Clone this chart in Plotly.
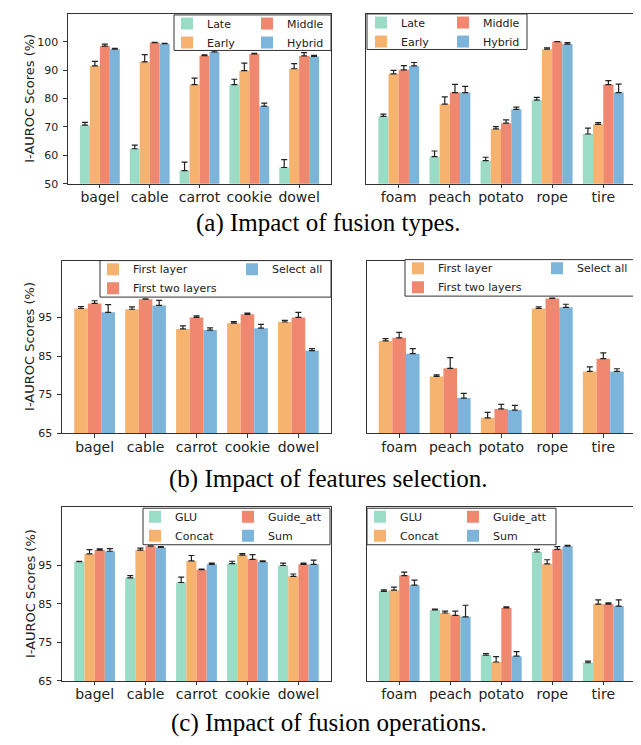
import plotly.graph_objects as go

W, H = 641, 745

# ---------------- data ----------------
cats_left = ["bagel", "cable", "carrot", "cookie", "dowel"]
cats_right = ["foam", "peach", "potato", "rope", "tire"]

# (a) Impact of fusion types
a_names = ["Late", "Early", "Middle", "Hybrid"]
a_late_L = [70.6, 62.3, 54.6, 84.9, 55.7]
a_late_L_err = [1.0, 1.3, 3.0, 1.9, 2.8]
a_early_L = [91.5, 92.9, 84.9, 89.8, 90.5]
a_early_L_err = [1.6, 2.6, 2.3, 2.7, 1.8]
a_middle_L = [98.5, 99.7, 95.1, 95.7, 95.0]
a_middle_L_err = [0.7, 0.1, 0.3, 0.2, 1.2]
a_hybrid_L = [97.4, 99.3, 96.4, 77.3, 94.8]
a_hybrid_L_err = [0.3, 0.1, 0.5, 1.1, 0.4]

a_late_R = [73.7, 59.5, 58.1, 79.4, 67.5]
a_late_R_err = [0.8, 2.0, 1.2, 1.0, 2.1]
a_early_R = [88.7, 78.0, 69.3, 97.4, 70.9]
a_early_R_err = [1.2, 2.6, 0.8, 0.5, 0.6]
a_middle_R = [90.1, 82.1, 71.3, 100.0, 84.9]
a_middle_R_err = [1.5, 2.9, 1.2, 0.1, 1.4]
a_hybrid_R = [91.5, 82.1, 76.2, 99.2, 82.1]
a_hybrid_R_err = [1.2, 2.2, 0.8, 0.5, 3.0]

# (b) Impact of features selection
b_names = ["First layer", "First two layers", "Select all"]
b_first_L = [97.3, 97.1, 92.0, 93.5, 93.8]
b_first_L_err = [0.5, 0.6, 0.8, 0.4, 0.4]
b_two_L = [98.6, 99.7, 95.0, 95.8, 95.0]
b_two_L_err = [0.7, 0.1, 0.4, 0.3, 1.3]
b_all_L = [96.3, 98.1, 91.7, 92.2, 86.4]
b_all_L_err = [2.0, 1.3, 0.6, 1.0, 0.5]

b_first_R = [88.9, 79.7, 69.0, 97.3, 81.0]
b_first_R_err = [0.6, 0.4, 1.4, 0.4, 1.2]
b_two_R = [89.7, 81.8, 71.3, 99.9, 84.3]
b_two_R_err = [1.4, 2.8, 1.2, 0.1, 1.5]
b_all_R = [85.6, 74.1, 71.0, 97.6, 81.0]
b_all_R_err = [1.3, 1.2, 1.2, 0.8, 0.7]

# (c) Impact of fusion operations
c_names = ["GLU", "Concat", "Guide_att", "Sum"]
c_glu_L = [95.9, 91.7, 90.5, 95.4, 94.9]
c_glu_L_err = [0.1, 0.6, 1.4, 0.6, 0.6]
c_concat_L = [97.9, 98.9, 96.1, 97.6, 92.1]
c_concat_L_err = [1.1, 0.5, 1.4, 0.4, 0.6]
c_guide_L = [98.9, 99.9, 93.8, 96.5, 95.2]
c_guide_L_err = [0.3, 0.1, 0.2, 1.2, 0.3]
c_sum_L = [98.6, 99.6, 95.2, 95.9, 95.2]
c_sum_L_err = [0.7, 0.2, 0.3, 0.2, 1.1]

c_glu_R = [88.2, 83.4, 71.7, 98.4, 69.7]
c_glu_R_err = [0.4, 0.2, 0.4, 0.7, 0.4]
c_concat_R = [88.5, 82.6, 69.9, 95.3, 84.9]
c_concat_R_err = [0.8, 0.5, 1.4, 1.1, 1.1]
c_guide_R = [92.3, 82.0, 83.9, 99.1, 84.9]
c_guide_R_err = [0.9, 1.1, 0.3, 0.7, 0.3]
c_sum_R = [89.8, 81.6, 71.4, 99.9, 84.4]
c_sum_R_err = [1.3, 3.0, 1.2, 0.2, 1.6]

a_yticks = [50, 60, 70, 80, 90, 100]
bc_yticks = [65, 75, 85, 95]

y_title = "I-AUROC Scores (%)"
captions = ["(a) Impact of fusion types.",
            "(b) Impact of features selection.",
            "(c) Impact of fusion operations."]

# ---------------- style ----------------
TEAL = "#9BDCC6"
ORANGE = "#F5B36F"
SALMON = "#F08870"
BLUE = "#7DB5DA"
FONT = "DejaVu Sans"
FRAME = "#333333"


def fx(p):
    return p / W


def fy(p):
    return 1 - p / H


fig = go.Figure()

# panel geometry: (x0, x1, ytop, ybottom, yrange)
panels = [
    (60, 323, 3, 175, [50, 109.8]),
    (358, 628, 3, 175, [50, 109.8]),
    (54, 323, 253, 428, [65, 109.7]),
    (358.5, 628, 253, 428, [65, 109.7]),
    (54, 323, 503, 679, [65, 110]),
    (358.5, 628, 503, 679, [65, 110]),
]

series = [
    [("Late", a_late_L, a_late_L_err, TEAL, 1), ("Early", a_early_L, a_early_L_err, ORANGE, 1),
     ("Middle", a_middle_L, a_middle_L_err, SALMON, 2), ("Hybrid", a_hybrid_L, a_hybrid_L_err, BLUE, 2)],
    [("Late", a_late_R, a_late_R_err, TEAL, 3), ("Early", a_early_R, a_early_R_err, ORANGE, 3),
     ("Middle", a_middle_R, a_middle_R_err, SALMON, 4), ("Hybrid", a_hybrid_R, a_hybrid_R_err, BLUE, 4)],
    [("First layer", b_first_L, b_first_L_err, ORANGE, 5), ("First two layers", b_two_L, b_two_L_err, SALMON, 5),
     ("Select all", b_all_L, b_all_L_err, BLUE, 6)],
    [("First layer", b_first_R, b_first_R_err, ORANGE, 7), ("First two layers", b_two_R, b_two_R_err, SALMON, 7),
     ("Select all", b_all_R, b_all_R_err, BLUE, 8)],
    [("GLU", c_glu_L, c_glu_L_err, TEAL, 9), ("Concat", c_concat_L, c_concat_L_err, ORANGE, 9),
     ("Guide_att", c_guide_L, c_guide_L_err, SALMON, 10), ("Sum", c_sum_L, c_sum_L_err, BLUE, 10)],
    [("GLU", c_glu_R, c_glu_R_err, TEAL, 11), ("Concat", c_concat_R, c_concat_R_err, ORANGE, 11),
     ("Guide_att", c_guide_R, c_guide_R_err, SALMON, 12), ("Sum", c_sum_R, c_sum_R_err, BLUE, 12)],
]

for i, sers in enumerate(series):
    k = i + 1
    cats = cats_left if i % 2 == 0 else cats_right
    for name, vals, errs, col, lg in sers:
        fig.add_trace(go.Bar(
            x=cats, y=vals, name=name,
            marker=dict(color=col, line=dict(width=0)),
            error_y=dict(type="data", symmetric=False, array=errs,
                         arrayminus=[0] * len(errs), color="#222222",
                         thickness=1.2, width=3),
            xaxis="x" if k == 1 else f"x{k}",
            yaxis="y" if k == 1 else f"y{k}",
            legend="legend" if lg == 1 else f"legend{lg}",
            showlegend=True,
        ))

layout = dict(
    width=W, height=H,
    margin=dict(l=0, r=0, t=0, b=0),
    paper_bgcolor="white", plot_bgcolor="white",
    barmode="group", bargap=0.2, bargroupgap=0,
    font=dict(family=FONT, color="#222222"),
    showlegend=True,
)

annotations = []
for i, (x0, x1, yt, yb, yr) in enumerate(panels):
    k = i + 1
    sfx = "" if k == 1 else str(k)
    left = (i % 2 == 0)
    ticks_y = a_yticks if i < 2 else bc_yticks
    layout[f"xaxis{sfx}"] = dict(
        domain=[fx(x0), fx(x1)], anchor=f"y{sfx}", type="category",
        range=[-0.64, 4.64], showgrid=False, zeroline=False,
        showline=True, mirror=True, linecolor=FRAME, linewidth=1.2,
        ticks="outside", ticklen=3.5, tickwidth=0.9, tickcolor=FRAME,
        tickfont=dict(size=14, family=FONT, color="#222222"),
        ticklabelstandoff=-3,
        fixedrange=True,
    )
    ya = dict(
        domain=[fy(yb), fy(yt)], anchor=f"x{sfx}", range=yr,
        showgrid=False, zeroline=False,
        showline=True, mirror=True, linecolor=FRAME, linewidth=1.2,
        tickvals=ticks_y, fixedrange=True,
    )
    if left:
        ya.update(ticks="outside", ticklen=3.5, tickwidth=0.9, tickcolor=FRAME,
                  tickfont=dict(size=11, family=FONT, color="#222222"),
                  ticklabelstandoff=3)
        annotations.append(dict(
            text=y_title, x=fx(22), y=fy((yt + yb) / 2), xref="paper", yref="paper",
            xanchor="center", yanchor="middle", textangle=-90, showarrow=False,
            font=dict(size=13, family=FONT, color="#222222")))
    else:
        ya.update(ticks="", showticklabels=False)
    layout[f"yaxis{sfx}"] = ya

# legends: (legend id, x px of legend, y px top)
legend_pos = [
    (1, 159, -2), (2, 239, -2),
    (3, 353, -3), (4, 435, -3),
    (5, 85, 247), (6, 224, 247),
    (7, 390, 246), (8, 529, 246),
    (9, 127, 498), (10, 220, 498),
    (11, 352, 498), (12, 445, 498),
]
for lg, lx, ly in legend_pos:
    key = "legend" if lg == 1 else f"legend{lg}"
    layout[key] = dict(
        x=fx(lx), y=fy(ly), xanchor="left", yanchor="top",
        bgcolor="rgba(0,0,0,0)", borderwidth=0, tracegroupgap=0,
        font=dict(size=11, family=FONT, color="#222222"),
        orientation="v",
    )

# legend frames
frames = [
    (166, 4, 323, 40), (359, 3, 519, 39),
    (92, 253, 323, 290), (397, 252, 628, 289),
    (135, 504, 322, 541), (359, 504, 548, 541),
]
shapes = []
for x0, y0, x1, y1 in frames:
    shapes.append(dict(type="rect", xref="paper", yref="paper",
                       x0=fx(x0), x1=fx(x1), y0=fy(y1), y1=fy(y0),
                       line=dict(color=FRAME, width=1), fillcolor="white",
                       layer="above"))
layout["shapes"] = shapes

cap_y = [214.5, 474.5, 722]
annotations += [
    dict(text=t, x=0.5, y=fy(cy), xref="paper", yref="paper",
         xanchor="center", yanchor="middle", showarrow=False,
         font=dict(family="Liberation Serif", size=25, color="black"))
    for t, cy in zip(captions, cap_y)
]
layout["annotations"] = annotations

fig.update_layout(**layout)
fig.write_html("out.html")
